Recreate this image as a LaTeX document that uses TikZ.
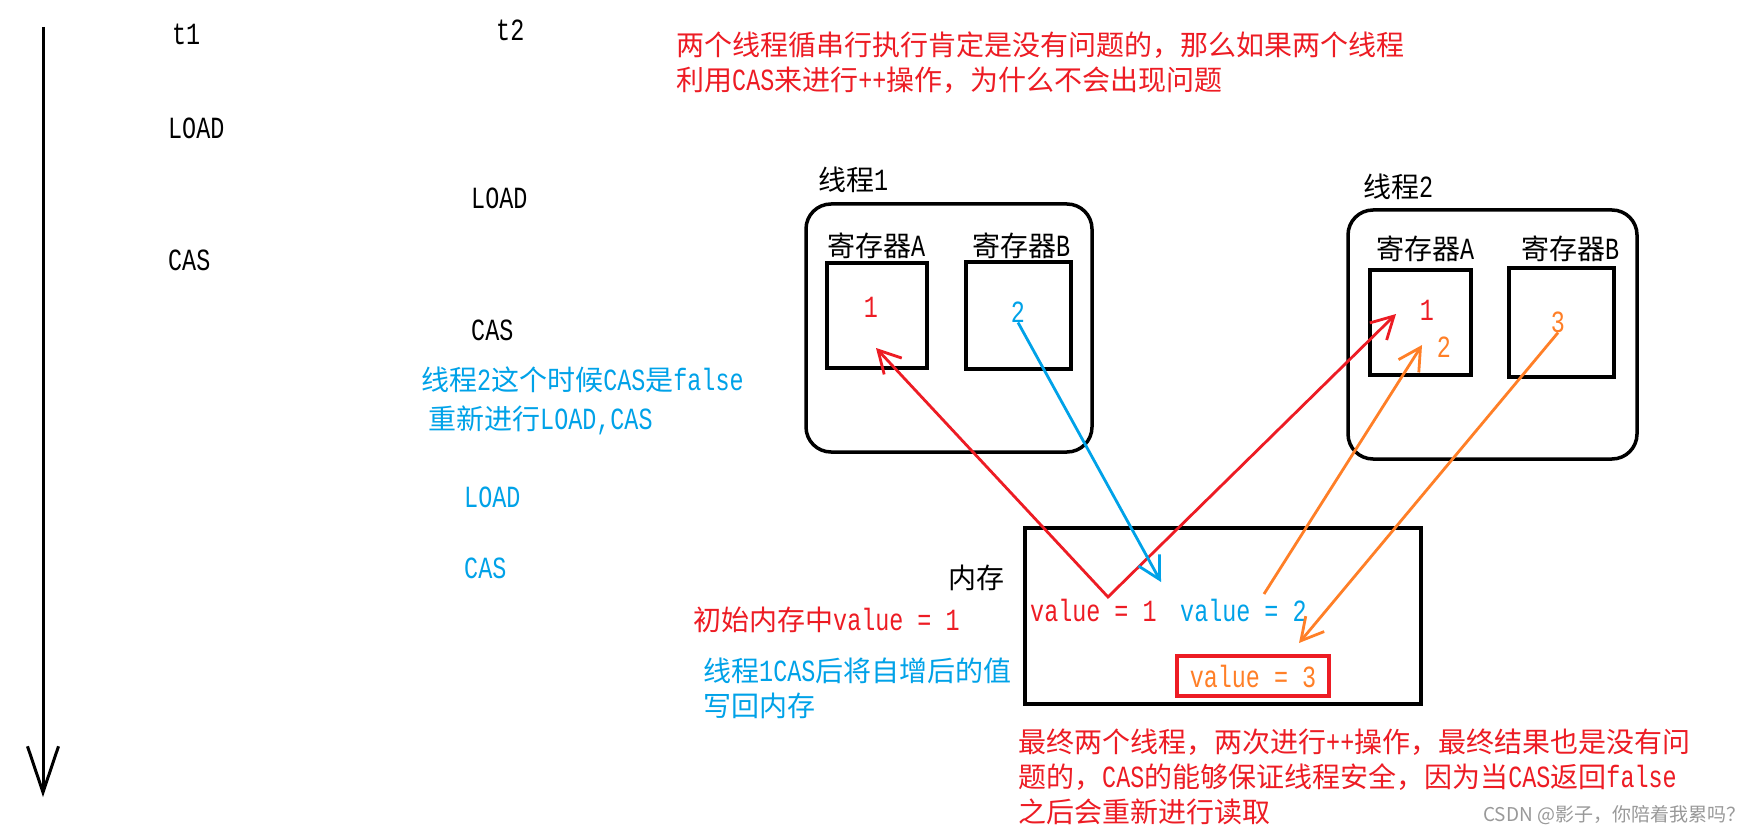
\documentclass[tikz,border=0pt]{standalone}
\usepackage{fontspec}
\setmainfont{Liberation Mono}[Scale=1.1,FakeStretch=0.76]
\newfontfamily\cjk{Noto Sans CJK SC}
\newcommand{\zh}[1]{{\cjk #1}}
\usetikzlibrary{arrows.meta}
\definecolor{casred}{RGB}{237,28,36}
\definecolor{casblue}{RGB}{0,162,232}
\definecolor{casorange}{RGB}{255,127,39}
\tikzset{barb/.tip={Straight Barb[length=22pt,width=24pt]}}

\begin{document}
\begin{tikzpicture}[x=1pt,y=-1pt,font=\fontsize{28}{35}\selectfont,
    txt/.style={inner sep=0pt,anchor=west},
    num/.style={inner sep=0pt},
    frame/.style={draw,line width=3.5pt,inner sep=0pt},
    link/.style={line width=2.8pt,-barb}]
  \path[fill=white] (0,0) rectangle (1764,837);
  \coordinate (start) at (43,27);
  \coordinate (stop) at (43,797);
  \draw[line width=3pt,-{Straight Barb[length=46pt,width=31pt]}] (start) -- (stop);
  \node[txt] (t1) at (172,34) {t1};
  \node[txt] (t2) at (496,30) {t2};
  \node[txt] (load1) at (168,128) {LOAD};
  \node[txt] (load2) at (471,198) {LOAD};
  \node[txt] (cas1) at (168,260) {CAS};
  \node[txt] (cas2) at (471,330) {CAS};
  \node[txt,casblue] (retry1) at (421,380) {\zh{线程}2\zh{这个时候}CAS\zh{是}false};
  \node[txt,casblue] (retry2) at (428,420) {\zh{重新进行}LOAD,CAS};
  \node[txt,casblue] (load3) at (464,497) {LOAD};
  \node[txt,casblue] (cas3) at (464,568) {CAS};
  \node[txt,casred,align=left] (title) at (676,62.5) {\zh{两个线程循串行执行肯定是没有问题的，那么如果两个线程}\\\zh{利用}CAS\zh{来进行}++\zh{操作，为什么不会出现问题}};

  \node[frame,rounded corners=25pt,minimum width=286pt,minimum height=248pt] (th1) at (949,328) {};
  \node[txt] (th1lbl) at (818,180) {\zh{线程}1};
  \node[frame,minimum width=100pt,minimum height=105pt] (r1a) at (877,315.5) {};
  \node[frame,minimum width=105pt,minimum height=107pt] (r1b) at (1018.5,315.5) {};
  \node[txt] (r1albl) at (827,246) {\zh{寄存器}A};
  \node[txt] (r1blbl) at (972,246) {\zh{寄存器}B};
  \node[num,casred] (n1a) at (871,307) {1};
  \node[num,casblue] (n1b) at (1018,312) {2};

  \node[frame,rounded corners=25pt,minimum width=289pt,minimum height=249pt] (th2) at (1492.5,334.5) {};
  \node[txt] (th2lbl) at (1363,187) {\zh{线程}2};
  \node[frame,minimum width=101pt,minimum height=105pt] (r2a) at (1420.5,322.5) {};
  \node[frame,minimum width=105pt,minimum height=109pt] (r2b) at (1561.5,322.5) {};
  \node[txt] (r2albl) at (1376,249) {\zh{寄存器}A};
  \node[txt] (r2blbl) at (1521,249) {\zh{寄存器}B};
  \node[num,casred] (n2a) at (1427,310) {1};
  \node[num,casorange] (n2a2) at (1444,347) {2};
  \node[num,casorange] (n2b) at (1558,322) {3};

  \node[frame,minimum width=396pt,minimum height=176pt] (mem) at (1223,616) {};
  \node[txt] (memlbl) at (948,578) {\zh{内存}};
  \node[txt,casred] (val1) at (1030,610) {value = 1};
  \node[txt,casblue] (val2) at (1180,610) {value = 2};
  \node[draw=casred,text=casorange,line width=3.5pt,inner sep=0pt,minimum width=152pt,minimum height=40pt] (val3) at (1253,676) {value = 3};
  \node[txt,casred] (init) at (693,620) {\zh{初始内存中}value = 1};
  \node[txt,casblue,align=left] (back) at (703,688.5) {\zh{线程}1CAS\zh{后将自增后的值}\\\zh{写回内存}};
  \node[txt,casred,align=left] (concl) at (1018,777) {\zh{最终两个线程，两次进行}++\zh{操作，最终结果也是没有问}\\\zh{题的，}CAS\zh{的能够保证线程安全，因为当}CAS\zh{返回}false\\\zh{之后会重新进行读取}};
  \node[txt,gray!80,font=\cjk\fontsize{19}{22}\selectfont] (mark) at (1483,815) {CSDN @影子，你陪着我累吗？};

  \coordinate (vtx) at (1108,597);
  \coordinate (hitA1) at (876,348);
  \coordinate (hitA2) at (1396,314);
  \coordinate (hitmem) at (1161,582);
  \coordinate (from2) at (1264,594);
  \coordinate (hit2) at (1422,345);
  \coordinate (hit3) at (1299,643);
  \draw[casred,line width=2.8pt,barb-barb] (hitA1) -- (vtx) -- (hitA2);
  \draw[casblue,link] (n1b.south) -- (hitmem);
  \draw[casorange,link] (from2) -- (hit2);
  \draw[casorange,link] (n2b.south) -- (hit3);
\end{tikzpicture}
\end{document}
